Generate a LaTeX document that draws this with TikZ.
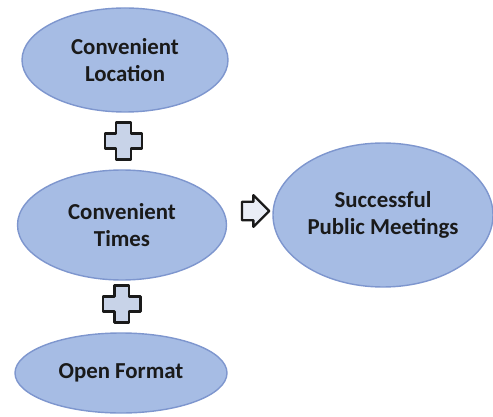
\documentclass[tikz,border=0pt]{standalone}
\usepackage{fontspec}
\setmainfont{Carlito}
\usetikzlibrary{shapes.geometric, shapes.arrows, calc}
\definecolor{ovalblue}{RGB}{166, 188, 228}
\definecolor{ovaledge}{RGB}{126, 150, 206}
\definecolor{signgray}{RGB}{200, 211, 232}
\definecolor{inkdark}{RGB}{26, 26, 26}

\tikzset{
    oval/.style={ellipse, fill=ovalblue, draw=ovaledge, line width=1.2pt, inner sep=0pt, align=center, text=inkdark, font=\bfseries\fontsize{19.5}{23}\selectfont},
    signline/.style={fill=signgray, draw=inkdark, line width=2.2pt, line join=round},
    plus sign/.pic={
        \draw[signline] (-0.22,0.56) -- (0.22,0.56) -- (0.22,0.22) -- (0.56,0.22) -- (0.56,-0.22) -- (0.22,-0.22)
            -- (0.22,-0.56) -- (-0.22,-0.56) -- (-0.22,-0.22) -- (-0.56,-0.22) -- (-0.56,0.22) -- (-0.22,0.22) -- cycle;
    }
}

\begin{document}
\begin{tikzpicture}
    \useasboundingbox (0,0) rectangle (14.79,-12.51);

    % Left column of factors
    \node[oval, minimum width=6.18cm, minimum height=3.12cm] (location) at (3.75,-1.80) {Convenient\\Location};
    \node[oval, minimum width=6.27cm, minimum height=3.30cm] (times) at (3.66,-6.75) {Convenient\\Times};
    \node[oval, minimum width=6.36cm, minimum height=2.40cm] (format) at (3.63,-11.19) {Open Format};

    % Outcome
    \node[oval, minimum width=6.60cm, minimum height=4.32cm] (meetings) at (11.49,-6.45) {Successful\\Public Meetings};

    % Plus signs between the factors
    \pic at ($(location.south)!0.5!(times.north)$) {plus sign};
    \pic at ($(times.south)!0.45!(format.north)$) {plus sign};

    % Arrow to the outcome
    \node[single arrow, draw=inkdark, fill=signgray!40, line width=2pt, line join=round, minimum height=0.82cm, inner xsep=0.1cm, inner ysep=0.24cm, single arrow head extend=0.2cm] (leadsto) at (7.53,-6.33) {};
\end{tikzpicture}
\end{document}
